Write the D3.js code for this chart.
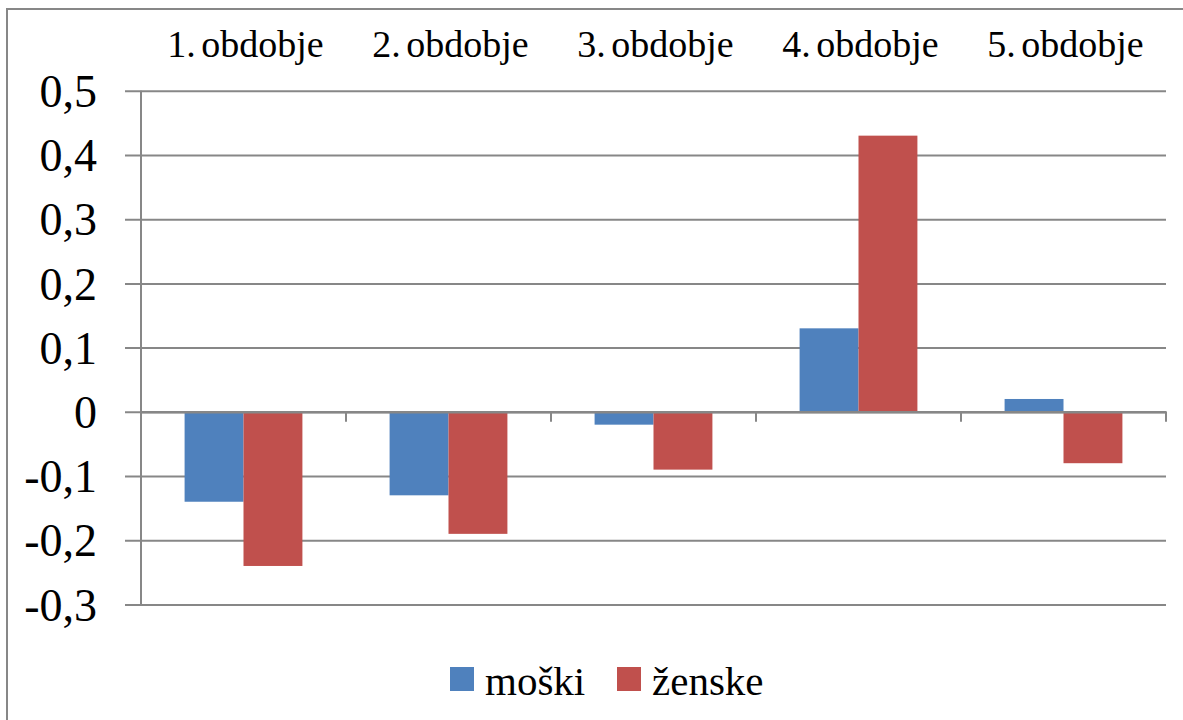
<!DOCTYPE html>
<html>
<head>
<meta charset="utf-8">
<script src="https://cdn.jsdelivr.net/npm/d3@7"></script>
<style>
  body { margin: 0; background: #fff; }
  svg { display: block; }
  svg text { font-family: "Liberation Serif", serif; }
</style>
</head>
<body>
<div id="graph"></div>
<script>
const categories = ["1. obdobje", "2. obdobje", "3. obdobje", "4. obdobje", "5. obdobje"];
const seriesNames = ["moški", "ženske"];
const moski = [-0.14, -0.13, -0.02, 0.13, 0.02];
const zenske = [-0.24, -0.19, -0.09, 0.43, -0.08];
const yTicks = [-0.3, -0.2, -0.1, 0, 0.1, 0.2, 0.3, 0.4, 0.5];
const colors = ["#4f81bd", "#c0504d"];

const width = 1183, height = 720;
const plot = { left: 141, right: 1166, top: 90.7, bottom: 604.5 };
const gridColor = "#878787";
const serif = "'Liberation Serif', serif";

const svg = d3.select("#graph").append("svg")
  .attr("width", width).attr("height", height);

// outer frame (runs off the right and bottom edges)
svg.append("rect")
  .attr("x", 7).attr("y", 9)
  .attr("width", width + 20).attr("height", height + 20)
  .attr("fill", "#fff").attr("stroke", gridColor).attr("stroke-width", 2);

const y = d3.scaleLinear().domain([-0.3, 0.5]).range([plot.bottom, plot.top]);
const x0 = d3.scaleBand().domain(categories).range([plot.left, plot.right]).paddingInner(0);
const x1 = d3.scaleBand().domain(seriesNames).range([0, x0.bandwidth()])
  .paddingInner(0).paddingOuter(0.74);

const locale = d3.formatLocale({ decimal: ",", thousands: ".", grouping: [3], currency: ["", ""], minus: "-" });
const fmt = d => (d === 0 ? "0" : locale.format(".1f")(d));

// gridlines + y ticks
const yAxis = d3.axisLeft(y)
  .tickValues(yTicks)
  .tickSize(-(plot.right - plot.left))
  .tickPadding(0)
  .tickFormat(fmt);

const gy = svg.append("g")
  .attr("transform", `translate(${plot.left},0)`)
  .call(yAxis);
gy.select(".domain").remove();
gy.selectAll(".tick line")
  .attr("x1", -16)
  .attr("stroke", gridColor).attr("stroke-width", 2);
gy.selectAll(".tick text")
  .attr("x", -44)
  .attr("dy", "0.34em")
  .attr("fill", "#000")
  .style("font-size", "46px")
  .style("font-family", serif);

// bars
const data = categories.map((c, i) => ({ cat: c, values: [moski[i], zenske[i]] }));
const groups = svg.append("g").selectAll("g")
  .data(data).join("g")
  .attr("transform", d => `translate(${x0(d.cat)},0)`);

groups.selectAll("rect")
  .data(d => d.values.map((v, j) => ({ key: seriesNames[j], v })))
  .join("rect")
  .attr("x", d => x1(d.key))
  .attr("width", x1.bandwidth())
  .attr("y", d => y(Math.max(0, d.v)))
  .attr("height", d => Math.abs(y(d.v) - y(0)))
  .attr("fill", (d, j) => colors[j]);

// category axis on zero line
const xAxis = d3.axisBottom(x0).tickSize(0).tickFormat("");
const gx = svg.append("g")
  .attr("transform", `translate(0,${y(0)})`)
  .call(xAxis);
gx.select(".domain").attr("stroke", gridColor).attr("stroke-width", 2.5);
gx.selectAll(".sep")
  .data(categories.slice(1).concat(["_end"]))
  .join("line")
  .attr("class", "sep")
  .attr("x1", d => (d === "_end" ? plot.right : x0(d)))
  .attr("x2", d => (d === "_end" ? plot.right : x0(d)))
  .attr("y1", 0).attr("y2", 10)
  .attr("stroke", gridColor).attr("stroke-width", 2);

// value axis line
svg.append("line")
  .attr("x1", plot.left).attr("x2", plot.left)
  .attr("y1", plot.top).attr("y2", plot.bottom + 1)
  .attr("stroke", gridColor).attr("stroke-width", 2);

// category labels along the top
svg.append("g").selectAll("text")
  .data(categories).join("text")
  .attr("x", d => x0(d) + x0.bandwidth() / 2 + 2)
  .attr("y", 57)
  .attr("text-anchor", "middle")
  .style("font-family", serif)
  .style("font-size", "38px")
  .style("word-spacing", "-4px")
  .text(d => d);

// legend
const legend = svg.append("g");
const legendX = [450, 617];
const le = legend.selectAll("g")
  .data(seriesNames).join("g")
  .attr("transform", (d, i) => `translate(${legendX[i]},667)`);
le.append("rect")
  .attr("width", 24).attr("height", 24)
  .attr("fill", (d, i) => colors[i]);
le.append("text")
  .attr("x", 35).attr("y", 28)
  .style("font-family", serif)
  .style("font-size", "41px")
  .text(d => d);
</script>
</body>
</html>
